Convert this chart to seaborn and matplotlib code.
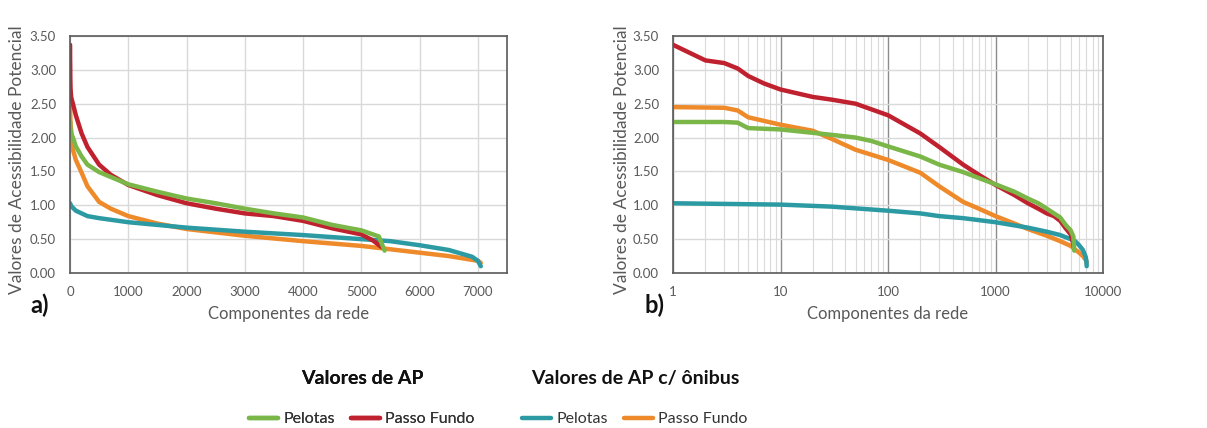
import numpy as np
import pandas as pd
import seaborn as sns
import matplotlib
matplotlib.use("Agg")
import matplotlib.pyplot as plt
from matplotlib.lines import Line2D
from matplotlib.ticker import LogLocator, NullFormatter

# ---------------- data (rank of network component, AP value) ----------------
ap_pel_rank = [1, 2, 3, 4, 5, 10, 20, 30, 50, 70, 100, 200, 300, 500, 1000, 1500,
               2000, 2500, 3000, 3500, 4000, 4500, 5000, 5300, 5400]
ap_pel_val = [2.23, 2.23, 2.23, 2.22, 2.14, 2.12, 2.07, 2.04, 2.00, 1.95, 1.87, 1.72,
              1.60, 1.49, 1.31, 1.20, 1.10, 1.03, 0.95, 0.88, 0.82, 0.71, 0.63, 0.54, 0.33]

ap_pf_rank = [1, 2, 3, 4, 5, 7, 10, 20, 30, 50, 100, 200, 300, 500, 700, 1000, 1500,
              2000, 2500, 3000, 3500, 4000, 4500, 5000, 5200, 5350]
ap_pf_val = [3.37, 3.14, 3.10, 3.02, 2.91, 2.80, 2.71, 2.60, 2.56, 2.50, 2.33, 2.06,
             1.86, 1.60, 1.45, 1.30, 1.15, 1.03, 0.95, 0.88, 0.84, 0.77, 0.66, 0.57,
             0.48, 0.38]

bus_pel_rank = [1, 10, 30, 100, 200, 300, 500, 1000, 2000, 3000, 4000, 5000, 5500,
                6000, 6500, 6900, 7000, 7050]
bus_pel_val = [1.03, 1.01, 0.98, 0.92, 0.88, 0.84, 0.81, 0.75, 0.67, 0.61, 0.56, 0.50,
               0.47, 0.41, 0.34, 0.24, 0.18, 0.10]

bus_pf_rank = [1, 3, 4, 5, 10, 20, 30, 50, 100, 200, 300, 500, 700, 1000, 1500, 2000,
               3000, 4000, 5000, 6000, 6500, 7000, 7050]
bus_pf_val = [2.45, 2.44, 2.40, 2.30, 2.19, 2.10, 1.98, 1.82, 1.67, 1.48, 1.28, 1.05,
              0.95, 0.84, 0.73, 0.65, 0.55, 0.47, 0.40, 0.30, 0.25, 0.18, 0.15]

legend_titles = ["Valores de AP", "Valores de AP c/ ônibus"]
city_labels = ["Pelotas", "Passo Fundo"]
y_ticks = [0.0, 0.5, 1.0, 1.5, 2.0, 2.5, 3.0, 3.5]
x_ticks_lin = [0, 1000, 2000, 3000, 4000, 5000, 6000, 7000]
x_ticks_log = [1, 10, 100, 1000, 10000]

colors = {"AP Pelotas": "#7AB648", "AP Passo Fundo": "#C0212E",
          "Bus Pelotas": "#2C9AA3", "Bus Passo Fundo": "#EE8A2A"}

frames = []
for name, r, v in [("Bus Passo Fundo", bus_pf_rank, bus_pf_val),
                   ("Bus Pelotas", bus_pel_rank, bus_pel_val),
                   ("AP Passo Fundo", ap_pf_rank, ap_pf_val),
                   ("AP Pelotas", ap_pel_rank, ap_pel_val)]:
    frames.append(pd.DataFrame({"rank": r, "valor": v, "serie": name}))
df = pd.concat(frames, ignore_index=True)
draw_order = ["Bus Passo Fundo", "Bus Pelotas", "AP Passo Fundo", "AP Pelotas"]

# ---------------- style ----------------
sns.set_theme(style="white")
plt.rcParams["font.family"] = ["Lato", "DejaVu Sans"]
gray = "#595959"

W, H = 1207, 428
fig = plt.figure(figsize=(W / 100, H / 100), dpi=100)
ax1 = fig.add_axes([70 / W, 1 - 273 / H, 437 / W, 237 / H])
ax2 = fig.add_axes([673 / W, 1 - 273 / H, 430 / W, 237 / H])

for ax in (ax1, ax2):
    sns.lineplot(data=df, x="rank", y="valor", hue="serie", hue_order=draw_order,
                 palette=colors, linewidth=3.2, ax=ax, legend=False,
                 sort=False, estimator=None)
    ax.set_ylim(0, 3.5)
    ax.set_yticks(y_ticks)
    ax.set_yticklabels([f"{t:.2f}" for t in y_ticks])
    ax.grid(True, axis="y", color="#d9d9d9", linewidth=1.0)
    for s in ax.spines.values():
        s.set_color("#5a5a5a")
        s.set_linewidth(1.2)
    ax.tick_params(axis="both", length=0, labelsize=9.5, labelcolor=gray)
    ax.tick_params(axis="y", pad=10)
    ax.tick_params(axis="x", pad=9)
    ax.set_axisbelow(True)
    ax.set_xlabel("Componentes da rede", fontsize=12, color=gray, labelpad=6)
    ax.set_ylabel("Valores de Acessibilidade Potencial", fontsize=12.5, color=gray)

ax1.set_xlim(0, 7500)
ax1.set_xticks(x_ticks_lin)
ax1.grid(True, axis="x", color="#d9d9d9", linewidth=1.0)
ax1.yaxis.set_label_coords(-45 / 437, 0.48)

ax2.set_xscale("log")
ax2.set_xlim(1, 10000)
ax2.set_xticks(x_ticks_log)
ax2.set_xticklabels([str(t) for t in x_ticks_log])
ax2.xaxis.set_minor_locator(LogLocator(base=10, subs=np.arange(2, 10)))
ax2.xaxis.set_minor_formatter(NullFormatter())
ax2.grid(True, axis="x", which="major", color="#8c8c8c", linewidth=1.0)
ax2.grid(True, axis="x", which="minor", color="#dadada", linewidth=0.8)
ax2.tick_params(axis="x", which="minor", length=0)
ax2.yaxis.set_label_coords(-43 / 430, 0.48)

fig.text(40 / W, 1 - 305 / H, "a)", fontsize=17, fontweight="bold",
         ha="center", va="center", color="#111111")
fig.text(655 / W, 1 - 305 / H, "b)", fontsize=17, fontweight="bold",
         ha="center", va="center", color="#111111")

# ---------------- legends ----------------
def make_legend(keys, title, cx):
    handles = [Line2D([], [], color=colors[k], linewidth=3.2) for k in keys]
    leg = fig.legend(handles, city_labels, title=title, ncol=2, loc="center",
                     bbox_to_anchor=(cx / W, 1 - 398 / H), frameon=False,
                     fontsize=11.5, handlelength=1.8, handletextpad=0.35,
                     columnspacing=1.0, borderpad=0.2,
                     title_fontproperties={"size": 14, "weight": "bold"})
    for t in leg.get_texts():
        t.set_color("#333333")
    leg.get_title().set_color("#111111")
    leg._legend_box.sep = 18
    return leg

leg1 = make_legend(["AP Pelotas", "AP Passo Fundo"], legend_titles[0], 362)
fig.add_artist(leg1)
leg2 = make_legend(["Bus Pelotas", "Bus Passo Fundo"], legend_titles[1], 635)

fig.savefig("out.png", dpi=100)
